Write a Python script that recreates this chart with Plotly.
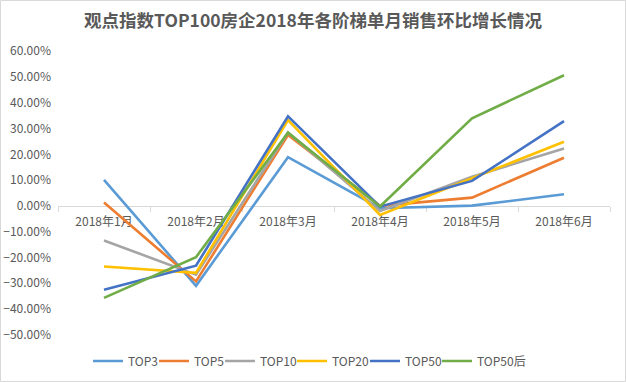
import plotly.graph_objects as go

months = ["2018年1月", "2018年2月", "2018年3月", "2018年4月", "2018年5月", "2018年6月"]
series_names = ["TOP3", "TOP5", "TOP10", "TOP20", "TOP50", "TOP50后"]
top3 = [0.101, -0.310, 0.189, -0.009, 0.001, 0.045]
top5 = [0.013, -0.293, 0.275, 0.000, 0.032, 0.187]
top10 = [-0.134, -0.267, 0.285, -0.020, 0.113, 0.223]
top20 = [-0.235, -0.260, 0.333, -0.035, 0.107, 0.249]
top50 = [-0.325, -0.232, 0.348, -0.003, 0.097, 0.329]
top50_after = [-0.357, -0.199, 0.284, -0.002, 0.340, 0.507]
colors = ["#5B9BD5", "#ED7D31", "#A5A5A5", "#FFC000", "#4472C4", "#70AD47"]
y_ticks = [0.6, 0.5, 0.4, 0.3, 0.2, 0.1, 0.0, -0.1, -0.2, -0.3, -0.4, -0.5]

W, H = 626, 382
ml, mr, mt, mb = 58, 16, 51, 47
pw, ph = W - ml - mr, H - mt - mb
ymin, ymax = -0.5, 0.6
font = "Noto Sans CJK SC, Noto Sans, sans-serif"

# legend text left edges (px) in the reference layout
legend_text_px = [128, 194, 260, 332, 405, 477]

fig = go.Figure()
legend_layout = {}
for i, (name, vals, c) in enumerate(zip(series_names, [top3, top5, top10, top20, top50, top50_after], colors)):
    lname = "legend" if i == 0 else f"legend{i + 1}"
    fig.add_trace(go.Scatter(x=months, y=vals, name=name, mode="lines",
                             line=dict(color=c, width=2.6), legend=lname))
    legend_layout[lname] = dict(
        orientation="h", x=(legend_text_px[i] - 40 - ml) / pw, xanchor="left",
        y=(335 - 361) / ph, yanchor="middle", bgcolor="rgba(0,0,0,0)",
        font=dict(size=12, color="#595959", family=font), itemwidth=30)

zero_pos = (0 - ymin) / (ymax - ymin)
fig.update_layout(
    width=W, height=H,
    margin=dict(l=ml, r=mr, t=mt, b=mb, autoexpand=False),
    paper_bgcolor="white", plot_bgcolor="white",
    font=dict(family=font, color="#595959", size=12),
    title=dict(text="<b>观点指数TOP100房企2018年各阶梯单月销售环比增长情况</b>",
               x=0.5, xanchor="center", xref="container", y=1 - 21 / H, yanchor="middle",
               font=dict(size=17.5, color="#595959", family=font)),
    xaxis=dict(type="category", anchor="free", position=zero_pos,
               showline=True, linecolor="#D9D9D9", linewidth=1,
               ticks="outside", tickson="boundaries", ticklen=5, tickcolor="#D9D9D9",
               showgrid=False, layer="below traces", tickfont=dict(size=12, color="#595959"),
               ticklabelstandoff=5, range=[-0.5, 5.5]),
    yaxis=dict(range=[ymin - 0.001, ymax + 0.001], tickvals=y_ticks, tickformat=".2%",
               showgrid=False, zeroline=False, showline=False, ticks="",
               tickfont=dict(size=12, color="#595959"), ticklabelstandoff=6),
    showlegend=True,
    **legend_layout,
)
fig.add_shape(type="rect", xref="paper", yref="paper",
              x0=(0.5 - ml) / pw, x1=(W - 0.5 - ml) / pw,
              y0=(-mb + 0.5) / ph, y1=(ph + mt - 0.5) / ph,
              line=dict(color="#D9D9D9", width=1), layer="below")
fig.write_html("out.html", config={"displayModeBar": False},
               post_script="document.body.style.margin='0';document.body.style.overflow='hidden';")
